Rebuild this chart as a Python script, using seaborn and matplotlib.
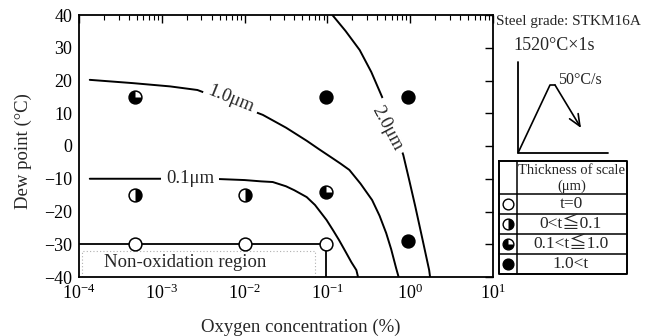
import matplotlib
matplotlib.use("Agg")
import matplotlib.pyplot as plt
import numpy as np
import pandas as pd
import seaborn as sns
from matplotlib.path import Path

sns.set_theme(style="white")
plt.rcParams['font.family'] = ['Liberation Serif', 'DejaVu Serif', 'Noto Sans CJK JP']
plt.rcParams['mathtext.fontset'] = 'stix'

# Measured scale thickness classes (oxygen %, dew point °C)
oxygen = [4.7e-4, 1.0e-2, 9.5e-2, 4.7e-4, 1.0e-2, 4.7e-4, 9.5e-2, 9.5e-2, 0.95, 0.95]
dew_point = [-30, -30, -30, -15, -15, 15, -14, 15, 15, -29]
scale_class = ['t=0', 't=0', 't=0',
               '0<t≦0.1', '0<t≦0.1',
               '0.1<t≦1.0', '0.1<t≦1.0',
               '1.0<t', '1.0<t', '1.0<t']
class_order = ['t=0', '0<t≦0.1', '0.1<t≦1.0', '1.0<t']

# Iso-thickness curves: log10(oxygen %) and dew point (°C)
iso01_logx = [-3.87, -3.0, -2.3, -2.0, -1.8, -1.66, -1.5, -1.4, -1.25, -1.15,
              -1.01, -0.93, -0.86, -0.78, -0.71, -0.65, -0.63]
iso01_y = [-10, -10, -10.1, -10.4, -10.8, -11.0, -12.3, -13.5, -15.6, -18.0,
           -22.6, -25.8, -28.7, -32.3, -35.5, -37.9, -40]
iso10_logx = [-3.87, -3.35, -2.9, -2.57, -2.18, -1.78, -1.5, -1.25, -1.1, -0.94,
              -0.84, -0.735, -0.6, -0.46, -0.37, -0.29, -0.23, -0.17, -0.14]
iso10_y = [20.2, 19.2, 18.2, 17.1, 13.4, 9.5, 5.6, 1.6, -1.0, -3.7,
           -5.4, -7.3, -11.5, -16.5, -21.3, -26.6, -31.5, -37.3, -40]
iso20_logx = [-0.94, -0.78, -0.61, -0.47, -0.34, -0.24, -0.157, -0.084, -0.012,
              0.06, 0.145, 0.229, 0.24]
iso20_y = [40, 35.1, 29.3, 22.6, 15.0, 8.6, 2.4, -2.7, -10.4,
           -18.3, -28.1, -37.9, -40]
iso_labels = ['0.1μm', '1.0μm', '2.0μm']
label_x = [2.2e-3, 6.9e-3, 0.53]
label_y = [-10, 14.2, 5.5]
label_rot = [0, -22, -62]

# Non-oxidation region boundary
region_x = [1e-4, 9.5e-2, 9.5e-2]
region_y = [-30, -30, -40]

df = pd.DataFrame({'oxygen': oxygen, 'dew': dew_point, 'cls': scale_class})

# black part of each marker (drawn over a white circle)
black_part = {
    't=0': None,
    '0<t≦0.1': Path.wedge(-90, 90),
    '0.1<t≦1.0': Path.wedge(90, 360),
    '1.0<t': 'o',
}

fig = plt.figure(figsize=(6.46, 3.36), dpi=100)
ax = fig.add_axes([79 / 646, 1 - 277 / 336, 414 / 646, 262 / 336])
ax.set_xscale('log')

# non-oxidation region
ax.add_patch(plt.Rectangle((1.1e-4, -40), 0.07 - 1.1e-4, 8, fill=False,
                           ec='#b0b0b0', lw=0.8, ls=(0, (1, 2)), zorder=1))
sns.lineplot(x=region_x, y=region_y, sort=False, estimator=None,
             color='black', lw=1.3, ax=ax, zorder=2)
ax.text(1.9e-3, -35.5, 'Non-oxidation region', ha='center', va='center', fontsize=13.5)

for lx, cy in [(iso01_logx, iso01_y), (iso10_logx, iso10_y), (iso20_logx, iso20_y)]:
    sns.lineplot(x=10 ** np.asarray(lx), y=cy, sort=False, estimator=None,
                 color='black', lw=1.4, ax=ax, zorder=2)
for t, lx, ly, r in zip(iso_labels, label_x, label_y, label_rot):
    ax.text(lx, ly, t, ha='center', va='center', rotation=r, fontsize=13.5,
            rotation_mode='anchor', zorder=3,
            bbox=dict(boxstyle='square,pad=0.25', fc='white', ec='none'))

MS = 85
sns.scatterplot(data=df, x='oxygen', y='dew', marker='o', s=MS, color='white',
                edgecolor='black', linewidth=1.1, ax=ax, zorder=4, legend=False)
for c in class_order:
    m = black_part[c]
    if m is None:
        continue
    sub = df[df['cls'] == c]
    sns.scatterplot(data=sub, x='oxygen', y='dew', marker=m, s=MS, color='black',
                    linewidth=0, ax=ax, zorder=5, legend=False)

ax.set_xlim(1e-4, 10)
ax.set_ylim(-40, 40)
ax.set_yticks(range(-40, 41, 10))
ax.set_xticks([1e-4, 1e-3, 1e-2, 1e-1, 1, 10])
ax.tick_params(which='both', direction='in', top=True, right=True, colors='black',
               labelsize=13)
ax.tick_params(which='major', length=6, width=1.0, pad=5)
ax.tick_params(which='minor', length=3.5, width=0.8)
ax.tick_params(axis='y', which='minor', left=False, right=False)
for s in ax.spines.values():
    s.set_color('black')
    s.set_linewidth(1.3)
ax.set_xlabel('Oxygen concentration (%)', fontsize=13.5)
ax.set_ylabel('Dew point (°C)', fontsize=13.5)
ax.xaxis.set_label_coords(0.536, -0.16)
ax.yaxis.set_label_coords(-0.113, 0.48)

# overlay in pixel coordinates for the heat pattern sketch and key table
ov = fig.add_axes([0, 0, 1, 1])
ov.set_xlim(0, 646)
ov.set_ylim(336, 0)
ov.axis('off')
ov.patch.set_alpha(0)

ov.text(496, 22, 'Steel grade: STKM16A', ha='left', va='center', fontsize=11)
ov.text(554, 45, '1520°C×1s', ha='center', va='center', fontsize=13)
ov.plot([518, 518, 608], [62, 153, 153], color='black', lw=1.3)
ov.plot([518, 550, 555], [153, 85, 85], color='black', lw=1.2)
ov.annotate('', xy=(581, 128), xytext=(555, 85),
            arrowprops=dict(arrowstyle='->,head_length=0.7,head_width=0.3',
                            color='black', lw=1.2, shrinkA=0, shrinkB=0))
ov.text(558, 80, '50°C/s', ha='left', va='center', fontsize=11.5)

# key table
tx0, tx1, tdiv = 499, 627, 517
ty = [161, 194, 214, 234, 254, 274]
ov.plot([tx0, tx1, tx1, tx0, tx0], [ty[0], ty[0], ty[-1], ty[-1], ty[0]],
        color='black', lw=1.4)
ov.plot([tdiv, tdiv], [ty[0], ty[-1]], color='black', lw=1.1)
for yy in ty[1:-1]:
    ov.plot([tx0, tx1], [yy, yy], color='black', lw=1.1)
ov.text(572, 170, 'Thickness of scale', ha='center', va='center', fontsize=10.5)
ov.text(572, 186, '(μm)', ha='center', va='center', fontsize=10.5)
for i, c in enumerate(class_order):
    yc = (ty[i + 1] + ty[i + 2]) / 2
    ov.text(571, yc, c, ha='center', va='center', fontsize=12.5)
    ov.scatter([507.5], [yc], marker='o', s=60, color='white', edgecolor='black',
               linewidth=1.0, zorder=4)
    if black_part[c] is not None:
        ov.scatter([507.5], [yc], marker=black_part[c], s=60, color='black',
                   linewidth=0, zorder=5)

fig.savefig('out.png', dpi=100)
